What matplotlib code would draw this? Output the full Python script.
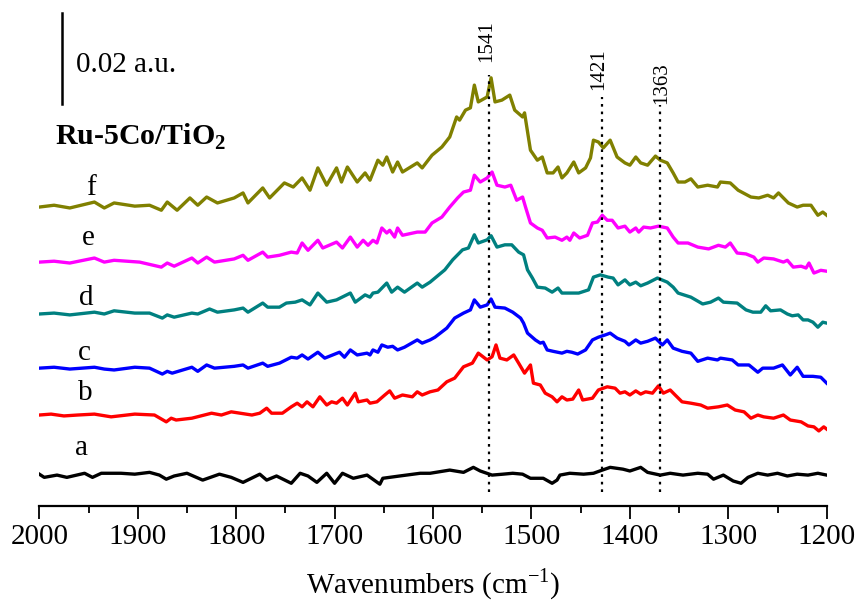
import matplotlib.pyplot as plt
from matplotlib.ticker import MultipleLocator

plt.rcParams['font.family'] = ['Liberation Serif', 'DejaVu Serif']
plt.rcParams['mathtext.fontset'] = 'custom'
plt.rcParams['mathtext.rm'] = 'Liberation Serif'
plt.rcParams['mathtext.bf'] = 'Liberation Serif:bold'

# spectra (absorbance in 10^-3 a.u., relative to each trace's baseline)
wn_a = [2000,1995,1982,1972,1954,1946,1937,1917,1903,1888,1878,1871,1863,1850,1834,1817,1805,1793,1776,1769,
        1759,1744,1735,1727,1718,1708,1700,1692,1681,1667,1654,1651,1634,1613,1603,1583,1569,1559,1552,1540,
        1529,1519,1509,1501,1488,1479,1474,1471,1461,1447,1437,1428,1420,1407,1400,1389,1382,1369,1359,1346,
        1331,1321,1315,1305,1295,1287,1280,1270,1260,1250,1240,1230,1219,1209,1200]
ab_a = [0,-0.7,-0.2,-0.7,0.2,-0.7,0.2,0.2,0,0.4,-0.2,-1.1,-0.4,0.2,-1.3,0,-0.7,-1.8,0,-1.3,
        -0.4,-2.0,0.2,-0.4,-1.8,0.2,-2.0,0.2,-0.9,-0.2,-2.2,-0.9,-0.4,0.2,0.2,0.9,0.4,1.5,0.7,-0.2,
        0,0.2,0,-0.9,-0.9,-2.0,-1.3,-0.2,0.2,0,0.2,0.9,1.5,1.1,0.7,1.5,0.4,-0.2,0.2,-0.2,
        0.2,0,-1.1,-0.2,-1.5,-2.0,-0.7,0.2,-0.2,0.2,-0.4,0,-0.2,0.2,-0.2]

wn_b = [2000,1988,1975,1961,1944,1927,1903,1883,1871,1866,1861,1845,1825,1815,1805,1796,1784,1776,1769,1764,
        1753,1744,1738,1733,1728,1722,1715,1708,1703,1698,1692,1687,1679,1676,1667,1664,1657,1649,1644,1639,
        1631,1621,1616,1611,1603,1595,1586,1578,1569,1560,1554,1545,1540,1536,1532,1525,1518,1513,1507,1501,
        1498,1491,1486,1479,1474,1469,1464,1458,1452,1448,1438,1432,1423,1415,1410,1405,1400,1394,1389,1384,
        1377,1371,1366,1359,1354,1347,1338,1328,1321,1310,1301,1293,1284,1277,1270,1264,1254,1244,1237,1226,
        1219,1213,1208,1203,1200]
ab_b = [0,0.2,-0.2,0,0.2,-0.4,0.2,0,-1.5,-0.7,-1.1,-0.7,0.4,0,0.7,0.4,0,0.4,1.5,0.4,
        0.4,1.8,2.6,1.8,2.9,1.8,4.0,2.2,2.9,2.6,3.7,2.2,4.8,2.9,3.3,2.6,2.9,4.4,5.3,3.7,
        4.4,4.0,5.1,4.4,5.1,5.5,7.3,8.1,10.6,11.4,13.6,12.1,12.8,15.4,12.5,12.1,13.2,11.4,9.2,11.0,
        7.0,6.6,4.8,4.0,2.9,4.0,3.3,3.5,5.5,3.3,3.7,5.5,6.2,5.9,4.8,5.1,4.4,5.3,4.6,5.1,
        4.8,6.4,4.8,5.5,4.4,2.9,2.6,2.2,1.5,1.8,2.2,1.1,0.7,-0.7,0,-0.4,-0.7,0,-1.1,-1.5,
        -2.4,-2.6,-3.5,-2.6,-3.1]

wn_c = [2000,1985,1969,1944,1934,1924,1903,1888,1875,1870,1865,1845,1839,1830,1822,1802,1793,1788,1773,1768,
        1756,1744,1738,1733,1727,1717,1710,1695,1690,1684,1677,1667,1664,1661,1656,1652,1646,1641,1636,1629,
        1616,1611,1603,1598,1586,1578,1569,1562,1558,1552,1545,1541,1537,1527,1519,1511,1508,1504,1496,1491,
        1488,1484,1478,1469,1464,1459,1453,1445,1438,1432,1425,1420,1413,1405,1401,1394,1389,1382,1374,1367,
        1362,1356,1347,1338,1331,1321,1311,1308,1296,1290,1279,1270,1265,1254,1245,1237,1230,1224,1214,1206,
        1200]
ab_c = [0,0.2,-0.2,0.2,-0.2,-0.4,0.2,0,-1.3,-0.7,-1.1,0.2,-0.7,0.7,0,0.4,0.7,0,1.1,0.4,
        1.1,2.4,2.2,2.9,2.0,3.5,2.2,3.5,2.4,4.0,2.9,3.3,2.9,4.0,3.5,5.1,4.6,4.8,4.0,4.6,
        6.2,5.5,6.2,6.8,8.8,11.0,12.1,12.8,15.0,13.4,13.9,15.2,13.4,13.2,12.3,11.0,9.9,7.7,6.2,5.5,
        5.7,4.0,3.7,3.3,3.7,3.5,3.1,4.0,6.2,6.8,7.3,7.7,6.6,5.9,5.1,6.2,5.5,5.9,6.6,5.1,
        6.2,4.4,3.7,3.3,1.5,2.2,1.8,2.2,1.8,0.7,0.7,-0.9,0,0,0.7,-1.5,0.2,-1.8,-1.8,-2.0,
        -3.3]

wn_d = [2000,1985,1969,1944,1934,1924,1903,1888,1875,1870,1863,1845,1839,1827,1819,1802,1793,1788,1773,1768,
        1756,1749,1740,1733,1725,1717,1708,1698,1684,1679,1669,1664,1661,1656,1647,1642,1636,1629,1616,1611,
        1603,1598,1588,1580,1570,1564,1558,1554,1545,1541,1535,1527,1520,1513,1508,1504,1499,1494,1486,1479,
        1473,1469,1459,1452,1442,1437,1430,1422,1417,1412,1405,1400,1394,1389,1382,1372,1362,1356,1351,1338,
        1326,1318,1310,1305,1291,1282,1275,1267,1262,1257,1247,1240,1235,1229,1224,1219,1214,1209,1204,1200]
ab_d = [0,0.2,-0.2,0.4,0,0.7,0.2,0.2,-0.9,-0.2,-0.7,0.2,0,1.1,0.4,0.9,1.3,0.4,2.4,1.5,
        1.5,2.4,2.6,3.1,2.0,4.6,2.6,3.1,4.6,2.6,4.2,3.7,4.6,4.8,6.8,4.8,5.9,4.8,6.8,5.9,
        7.0,7.9,9.7,11.9,14.1,14.5,17.4,15.6,16.3,17.2,14.7,15.2,15.2,13.6,13.0,9.7,7.9,5.9,5.7,4.8,
        5.7,4.6,4.6,4.6,5.3,8.1,8.6,8.1,7.9,6.4,7.5,6.4,7.0,6.2,6.8,7.9,7.0,5.9,4.6,3.7,
        2.2,2.6,3.5,2.6,2.4,0.9,0.4,0.4,1.8,0.7,0.9,0,-0.4,-0.2,-1.3,-1.3,-1.8,-2.9,-1.8,-2.0]

wn_e = [2000,1985,1969,1944,1934,1924,1898,1876,1870,1863,1845,1839,1830,1822,1802,1793,1788,1773,1768,1756,
        1744,1738,1733,1727,1717,1712,1698,1692,1684,1677,1671,1666,1661,1657,1652,1647,1644,1639,1636,1631,
        1616,1608,1601,1591,1583,1575,1569,1562,1558,1552,1545,1540,1535,1527,1521,1515,1509,1506,1501,1494,
        1489,1484,1476,1469,1464,1461,1457,1451,1443,1438,1433,1428,1423,1418,1412,1405,1400,1394,1391,1386,
        1379,1371,1362,1356,1351,1341,1331,1320,1310,1303,1298,1291,1282,1274,1270,1264,1254,1244,1240,1234,
        1226,1221,1218,1213,1206,1200]
ab_e = [0,0.2,-0.2,0.9,0,0.4,0,-1.1,-0.2,-0.9,0.9,-0.2,1.1,0,0.7,1.5,0.4,2.2,1.1,1.5,
        2.2,2.0,4.2,2.6,4.8,3.1,4.4,3.1,5.5,3.3,4.8,3.7,4.8,4.2,7.5,6.4,7.0,5.5,7.5,5.9,
        6.6,6.6,8.6,9.9,12.1,14.1,15.4,15.8,19.1,17.6,18.5,19.8,16.9,16.5,16.9,13.6,14.3,12.1,8.6,7.5,
        7.0,5.3,5.5,4.8,5.5,4.8,6.4,5.3,5.9,8.6,8.8,10.3,9.2,9.2,7.5,7.9,6.6,7.5,6.6,7.7,
        7.5,7.9,7.5,5.5,4.2,4.2,3.3,2.9,3.7,3.3,4.2,2.0,1.8,1.1,0,0.9,0.7,0,0.4,-1.1,
        -0.9,-1.3,-0.2,-2.4,-1.8,-2.0]

wn_f = [2000,1985,1969,1944,1934,1924,1903,1888,1876,1870,1860,1847,1839,1830,1819,1802,1793,1788,1773,1766,
        1751,1742,1733,1725,1717,1708,1698,1693,1687,1677,1669,1664,1656,1651,1647,1641,1636,1631,1616,1611,
        1601,1591,1583,1576,1573,1567,1562,1558,1554,1545,1541,1537,1530,1522,1517,1509,1507,1501,1494,1489,
        1484,1478,1473,1469,1464,1457,1452,1445,1440,1437,1432,1427,1420,1413,1405,1400,1394,1389,1382,1374,
        1369,1362,1356,1351,1344,1338,1331,1321,1311,1308,1298,1290,1277,1269,1260,1254,1249,1239,1230,1224,
        1216,1209,1204,1200]
ab_f = [0,0.4,-0.2,1.1,-0.2,0.9,0.2,0.4,-0.7,1.1,-0.7,2.0,0.4,2.2,0.9,2.0,3.1,0.9,4.2,2.0,
        5.3,4.4,6.4,3.7,8.6,4.8,8.6,5.5,8.8,5.5,7.5,5.9,10.3,9.2,11.0,7.7,9.9,7.7,9.7,8.6,
        11.4,13.2,15.4,19.8,19.1,21.3,21.8,26.8,23.1,24.2,28.4,23.1,23.5,24.6,21.3,19.8,20.7,12.5,10.3,11.0,
        7.5,7.5,8.8,6.4,7.5,9.9,7.5,8.6,10.8,14.7,14.3,13.0,14.7,11.0,9.7,9.2,11.0,9.7,9.2,11.2,
        10.3,9.7,7.5,5.5,5.5,6.2,4.4,4.8,4.4,5.5,5.3,3.7,2.2,2.0,2.6,2.0,3.1,0.9,0,0.4,
        0.4,-1.8,-1.1,-1.8]

labels = ["a", "b", "c", "d", "e", "f"]
offsets = [0, 13.0, 23.3, 35.2, 46.6, 58.7]
colors = ["black", "#ff0000", "#0000ff", "#008080", "#ff00ff", "#808000"]
spectra = [(wn_a, ab_a), (wn_b, ab_b), (wn_c, ab_c), (wn_d, ab_d), (wn_e, ab_e), (wn_f, ab_f)]
label_pos = [(1957, 4.2), (1953, 16.3), (1954.6, 25.1), (1952, 37.1), (1950.7, 50.3), (1947.5, 61.3)]

# marked bands: label, drawn position, top of the dotted line
bands = ["1541", "1421", "1363"]
band_x = [1543, 1428, 1369]
band_top = [87.7, 82.9, 81.1]
band_text = [(1545.4, 95.2), (1431.3, 89.1), (1367.3, 86.0)]

scale_bar = 20  # 0.02 a.u. in 10^-3 a.u.

fig = plt.figure(figsize=(8.6, 6.14), dpi=100)
ax = fig.add_axes([0.0457, 0.1751, 0.9156, 0.8086])

for (wn, ab), off, col in zip(spectra, offsets, colors):
    ax.plot(wn, [v + off for v in ab], color=col, lw=2.4, solid_joinstyle='round')

for lab, (lx, ly) in zip(labels, label_pos):
    ax.text(lx, ly, lab, fontsize=21, ha='center', va='baseline')

for name, bx, top, (tx, ty) in zip(bands, band_x, band_top, band_text):
    ax.plot([bx, bx], [-3.95, top], color='black', ls=(0, (1.2, 2.2)), lw=1.6)
    ax.text(tx, ty, name, rotation=90, fontsize=15, ha='center', va='center')

ax.plot([1977, 1977], [81.3, 81.3 + scale_bar], color='black', lw=1.8)
ax.text(1962.7, 88.4, "0.02 a.u.", fontsize=21, ha='left', va='baseline')
ax.text(1984, 72.3, r"Ru-5Co/TiO$_\mathbf{2}$", fontsize=21.5, fontweight='bold',
        ha='left', va='baseline')

ax.set_xlim(2000, 1200)
ax.set_ylim(-7.1, 102)
ax.xaxis.set_major_locator(MultipleLocator(100))
ax.xaxis.set_minor_locator(MultipleLocator(50))
ax.tick_params(axis='x', which='major', length=9.5, width=1.3, labelsize=21, pad=3)
ax.tick_params(axis='x', which='minor', length=5, width=1.3)
ax.set_yticks([])
for s in ['left', 'right', 'top']:
    ax.spines[s].set_visible(False)
ax.spines['bottom'].set_linewidth(1.6)
ax.set_xlabel(r"Wavenumbers (cm$^{-1}$)", fontsize=21, labelpad=12)

fig.savefig("out.png", dpi=100)
